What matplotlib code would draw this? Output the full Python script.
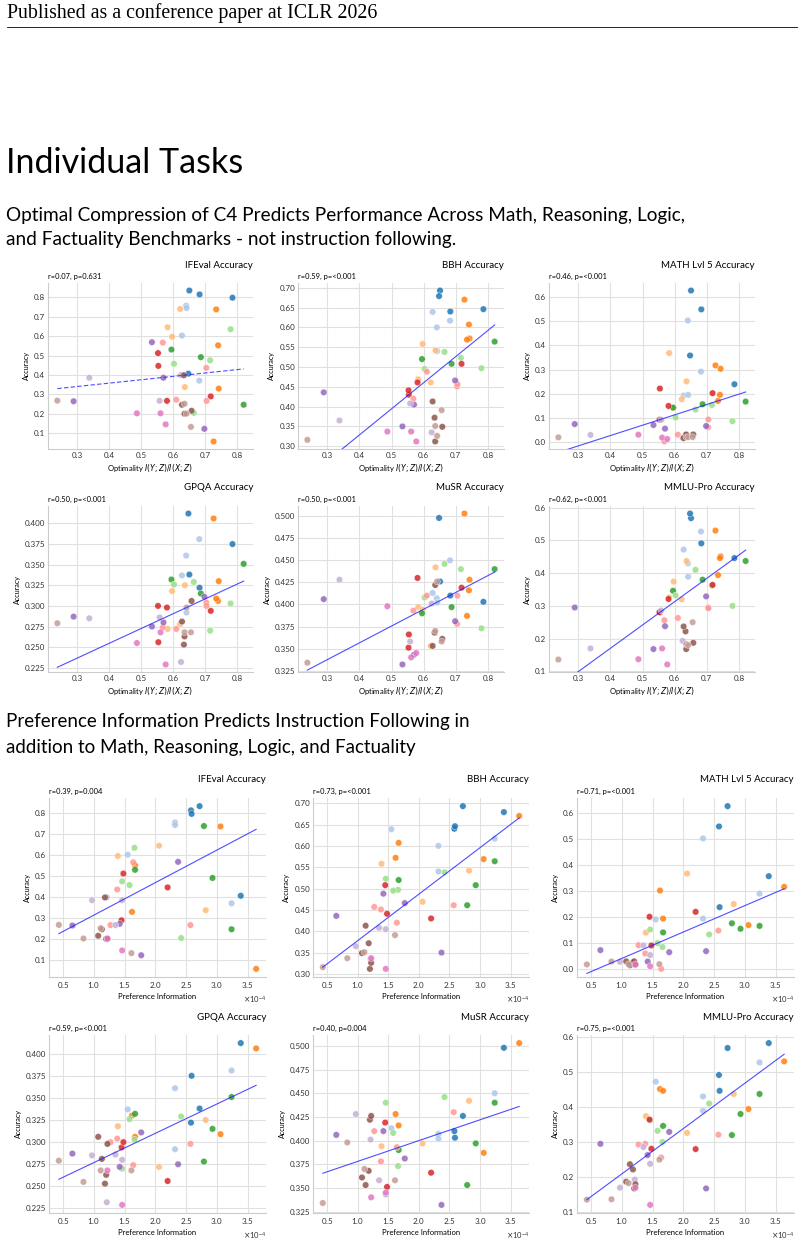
import numpy as np
import matplotlib
matplotlib.use('Agg')
import matplotlib.pyplot as plt
from matplotlib.ticker import MultipleLocator, ScalarFormatter

plt.rcParams['font.family'] = ['Lato', 'DejaVu Sans']

# one entry per model; colours are tab20 indices (top panels / bottom panels)
optimality = [0.651, 0.683, 0.648, 0.786, 0.628, 0.641, 0.642, 0.682,
              0.727, 0.743, 0.741, 0.735, 0.583, 0.597, 0.637, 0.622,
              0.595, 0.687, 0.821, 0.780, 0.716, 0.603, 0.665,
              0.554, 0.718, 0.553, 0.581, 0.568, 0.704, 0.610, 0.705,
              0.289, 0.534, 0.698, 0.570, 0.338, 0.625, 0.558,
              0.634, 0.628, 0.658, 0.636, 0.636, 0.642, 0.656, 0.238,
              0.487, 0.561, 0.577]
pref_info = [2.72, 2.58, 3.39, 2.59, 1.55, 2.32, 2.32, 3.24,
             3.64, 1.62, 1.67, 3.06, 2.06, 1.39, 2.82, 2.79,
             1.67, 2.93, 3.24, 1.66, 1.46, 1.58, 2.42,
             2.20, 1.45, 1.48, 2.57, 1.64, 1.38, 1.42, 1.27,
             0.65, 2.37, 1.77, 1.46, 0.97, 1.21, 1.35,
             1.18, 1.13, 1.07, 1.20, 1.11, 1.22, 1.61, 0.43,
             0.83, 1.22, 1.46]
color_top = [0, 0, 0, 0, 1, 1, 1, 1, 2, 2, 2, 2, 3, 3, 3, 3,
             4, 4, 4, 5, 5, 5, 5, 6, 6, 6, 6, 7, 7, 7, 7,
             8, 8, 8, 8, 9, 9, 9, 10, 10, 10, 10, 11, 11, 11, 11,
             12, 12, 12]
color_bottom = [0, 0, 0, 0, 1, 1, 1, 1, 2, 2, 2, 2, 3, 3, 3, 4,
                4, 4, 4, 5, 5, 5, 5, 6, 6, 6, 7, 7, 7, 8, 7,
                8, 8, 8, 9, 9, 9, 9, 10, 10, 10, 10, 11, 10, 11, 11,
                11, 12, 12]

ifeval = [0.835, 0.815, 0.407, 0.798, 0.603, 0.757, 0.745, 0.371,
          0.058, 0.330, 0.553, 0.738, 0.646, 0.597, 0.338, 0.740,
          0.531, 0.492, 0.247, 0.636, 0.476, 0.458, 0.205,
          0.447, 0.290, 0.513, 0.267, 0.567, 0.437, 0.273, 0.267,
          0.265, 0.569, 0.123, 0.386, 0.386, 0.400, 0.267,
          0.399, 0.247, 0.216, 0.201, 0.252, 0.201, 0.133, 0.268,
          0.203, 0.203, 0.146]
bbh = [0.693, 0.640, 0.679, 0.646, 0.639, 0.600, 0.540, 0.617,
       0.670, 0.572, 0.607, 0.569, 0.469, 0.558, 0.542, 0.461,
       0.520, 0.508, 0.564, 0.497, 0.523, 0.495, 0.538,
       0.430, 0.508, 0.441, 0.461, 0.420, 0.451, 0.488, 0.457,
       0.436, 0.350, 0.466, 0.405, 0.365, 0.335, 0.408,
       0.372, 0.413, 0.349, 0.312, 0.351, 0.326, 0.391, 0.316,
       0.337, 0.337, 0.312]
math5 = [0.627, 0.549, 0.358, 0.239, 0.192, 0.503, 0.195, 0.291,
         0.317, 0.303, 0.195, 0.170, 0.368, 0.141, 0.251, 0.177,
         0.142, 0.156, 0.167, 0.086, 0.153, 0.101, 0.134,
         0.221, 0.202, 0.092, 0.149, 0.002, 0.061, 0.030, 0.093,
         0.074, 0.070, 0.066, 0.055, 0.029, 0.017, 0.092,
         0.027, 0.016, 0.031, 0.031, 0.020, 0.020, 0.020, 0.019,
         0.030, 0.018, 0.012]
gpqa = [0.338, 0.322, 0.412, 0.375, 0.337, 0.361, 0.292, 0.381,
        0.406, 0.330, 0.306, 0.309, 0.272, 0.318, 0.325, 0.278,
        0.332, 0.315, 0.351, 0.303, 0.270, 0.326, 0.329,
        0.256, 0.294, 0.300, 0.298, 0.274, 0.304, 0.272, 0.300,
        0.287, 0.275, 0.311, 0.280, 0.285, 0.232, 0.286,
        0.253, 0.281, 0.306, 0.263, 0.268, 0.298, 0.268, 0.279,
        0.255, 0.268, 0.229]
musr = [0.426, 0.410, 0.498, 0.403, 0.413, 0.407, 0.402, 0.450,
        0.503, 0.428, 0.416, 0.387, 0.397, 0.394, 0.442, 0.353,
        0.390, 0.397, 0.440, 0.373, 0.440, 0.408, 0.446,
        0.366, 0.419, 0.351, 0.430, 0.393, 0.378, 0.410, 0.410,
        0.406, 0.332, 0.381, 0.343, 0.428, 0.401, 0.358,
        0.368, 0.353, 0.361, 0.422, 0.370, 0.426, 0.358, 0.334,
        0.398, 0.340, 0.345]
mmlu_pro = [0.568, 0.491, 0.582, 0.446, 0.472, 0.430, 0.389, 0.527,
            0.530, 0.451, 0.446, 0.394, 0.326, 0.374, 0.437, 0.320,
            0.346, 0.380, 0.437, 0.300, 0.362, 0.332, 0.410,
            0.280, 0.364, 0.281, 0.321, 0.256, 0.295, 0.263, 0.293,
            0.295, 0.168, 0.329, 0.238, 0.170, 0.193, 0.286,
            0.222, 0.237, 0.187, 0.168, 0.183, 0.180, 0.250, 0.136,
            0.137, 0.170, 0.121]

benchmarks = [('IFEval Accuracy', ifeval, 0.1),
              ('BBH Accuracy', bbh, 0.05),
              ('MATH Lvl 5 Accuracy', math5, 0.1),
              ('GPQA Accuracy', gpqa, 0.025),
              ('MuSR Accuracy', musr, 0.025),
              ('MMLU-Pro Accuracy', mmlu_pro, 0.1)]
stats_top = ['r=0.07, p=0.631', 'r=0.59, p=<0.001', 'r=0.46, p=<0.001',
             'r=0.50, p=<0.001', 'r=0.50, p=<0.001', 'r=0.62, p=<0.001']
stats_bottom = ['r=0.39, p=0.004', 'r=0.73, p=<0.001', 'r=0.71, p=<0.001',
                'r=0.59, p=<0.001', 'r=0.40, p=0.004', 'r=0.75, p=<0.001']

W, H = 804, 1244
fig = plt.figure(figsize=(W / 100, H / 100), dpi=100)
tab = plt.get_cmap('tab20').colors


def add_ax(left, top, right, bottom):
    return fig.add_axes([left / W, 1 - bottom / H, (right - left) / W, (bottom - top) / H])


def ftext(x, y, s, **kw):
    fig.text(x / W, 1 - y / H, s, **kw)


def theil_sen(x, y):
    # robust trend line: median of pairwise slopes
    i, j = np.triu_indices(len(x), 1)
    ok = x[j] != x[i]
    k = np.median((y[j] - y[i])[ok] / (x[j] - x[i])[ok])
    return k, np.median(y - k * x)


def panel(ax, x, y, cols, title, stat, ystep, xstep, xlabel, dashed=False):
    x = np.asarray(x)
    y = np.asarray(y)
    ax.scatter(x, y, c=[tab[c] for c in cols], s=22, alpha=0.85,
               edgecolors='white', linewidths=0.3, zorder=2)
    ax.autoscale_view()
    xlim, ylim = ax.get_xlim(), ax.get_ylim()
    k, b = theil_sen(x, y)
    xs = np.array([x.min(), x.max()])
    ax.plot(xs, k * xs + b, color='#2222ff', lw=0.8, alpha=0.8,
            ls=(0, (4, 2)) if dashed else '-', zorder=3)
    # limits follow the points only; the trend line is clipped
    ax.set_xlim(xlim)
    ax.set_ylim(ylim)
    ax.yaxis.set_major_locator(MultipleLocator(ystep))
    ax.xaxis.set_major_locator(MultipleLocator(xstep))
    ax.grid(color='#e0e0e0', lw=0.8)
    ax.set_axisbelow(True)
    for s in ['top', 'right']:
        ax.spines[s].set_visible(False)
    for s in ['left', 'bottom']:
        ax.spines[s].set_color('#cccccc')
        ax.spines[s].set_linewidth(0.8)
    ax.tick_params(length=0, labelsize=5.8, pad=2, colors='#333333')
    ax.set_ylabel('Accuracy', fontsize=5.2, labelpad=3)
    ax.set_xlabel(xlabel, fontsize=5.5, labelpad=2)
    ax.annotate(title, xy=(1, 1), xycoords='axes fraction', xytext=(0, 18),
                textcoords='offset pixels', ha='right', va='center', fontsize=7)
    ax.annotate(stat, xy=(0, 1), xycoords='axes fraction', xytext=(0, 7),
                textcoords='offset pixels', ha='left', va='center', fontsize=5.4)


# page header
ftext(7, 13, 'Published as a conference paper at ICLR 2026', family='Liberation Serif',
      fontsize=14.3, va='center')
fig.add_artist(plt.Line2D([7 / W, 797 / W], [1 - 27 / H, 1 - 27 / H], color='black', lw=0.6))
ftext(6, 163, 'Individual Tasks', fontsize=24.5, va='center')
ftext(6, 215, 'Optimal Compression of C4 Predicts Performance Across Math, Reasoning, Logic,',
      fontsize=13.7, va='center')
ftext(6, 240, 'and Factuality Benchmarks - not instruction following.', fontsize=13.7, va='center')
ftext(6, 722, 'Preference Information Predicts Instruction Following in', fontsize=13.5, va='center')
ftext(6, 748, 'addition to Math, Reasoning, Logic, and Factuality', fontsize=13.5, va='center')

top_cols = [(48, 253), (298, 504), (549, 755)]
top_rows = [(283, 449), (506, 672)]
bot_cols = [(49, 266), (313, 529), (577, 794)]
bot_rows = [(798, 977), (1035, 1213)]

pref_x = np.array(pref_info) * 1e-4

for i, (title, vals, step) in enumerate(benchmarks):
    r, c = divmod(i, 3)
    ax = add_ax(top_cols[c][0], top_rows[r][0], top_cols[c][1], top_rows[r][1])
    panel(ax, optimality, vals, color_top, title, stats_top[i], step, 0.1,
          r'Optimality $I(Y;Z)/I(X;Z)$', dashed=(i == 0))

    ax = add_ax(bot_cols[c][0], bot_rows[r][0], bot_cols[c][1], bot_rows[r][1])
    panel(ax, pref_x, vals, color_bottom, title, stats_bottom[i], step, 0.5e-4,
          'Preference Information')
    fmt = ScalarFormatter(useMathText=True)
    fmt.set_powerlimits((0, 0))
    ax.xaxis.set_major_formatter(fmt)
    ax.xaxis.get_offset_text().set_fontsize(5.5)

fig.savefig('out.png', dpi=100)
